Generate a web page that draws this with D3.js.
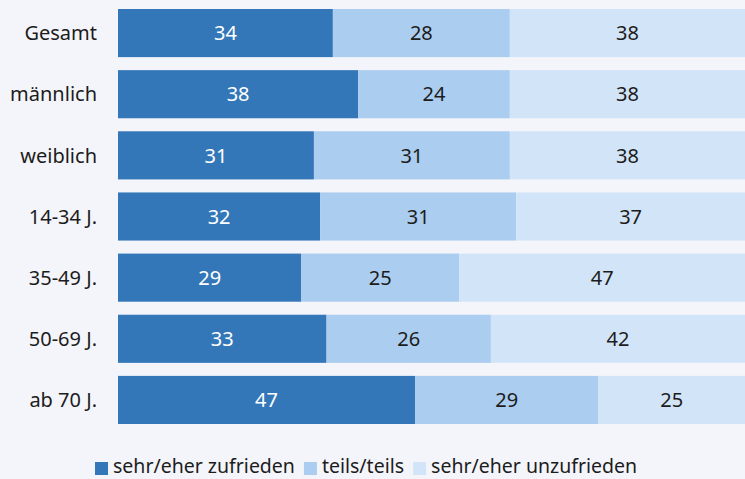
<!DOCTYPE html>
<html>
<head>
<meta charset="utf-8">
<script src="https://cdn.jsdelivr.net/npm/d3@7"></script>
<style>
  html, body { margin: 0; padding: 0; background: #f4f5fa; }
  svg { display: block; font-family: "Noto Sans", "Open Sans", sans-serif; }
</style>
</head>
<body>
<div id="chart"></div>
<script>
const categories = ['Gesamt', 'männlich', 'weiblich', '14-34 J.', '35-49 J.', '50-69 J.', 'ab 70 J.'];
const seriesNames = ['sehr/eher zufrieden', 'teils/teils', 'sehr/eher unzufrieden'];
const zufrieden = [34, 38, 31, 32, 29, 33, 47];
const teils = [28, 24, 31, 31, 25, 26, 29];
const unzufrieden = [38, 38, 38, 37, 47, 42, 25];
const colors = ['#3377b8', '#abcdef', '#d2e5f8'];
const textColors = ['#ffffff', '#1c1c1c', '#1c1c1c'];

const width = 745, height = 479;

const svg = d3.select('#chart').append('svg')
    .attr('width', width)
    .attr('height', height);

svg.append('rect').attr('width', width).attr('height', height).attr('fill', '#f4f5fa');

// Skalen
const x = d3.scaleLinear().domain([0, 100]).range([118, 750]);
const y = d3.scaleBand().domain(categories).range([9, 424]).paddingInner(0.213).paddingOuter(0);

const rows = categories.map((c, i) => ({ cat: c, values: [zufrieden[i], teils[i], unzufrieden[i]] }));
const stack = d3.stack().keys([0, 1, 2]).value((d, k) => d.values[k]);
const layers = stack(rows);

const g = svg.append('g');
layers.forEach((layer, k) => {
    const lg = g.append('g');
    lg.selectAll('rect')
        .data(layer)
        .enter()
        .append('rect')
        .attr('x', d => x(d[0]))
        .attr('y', d => y(d.data.cat))
        .attr('width', d => x(d[1]) - x(d[0]))
        .attr('height', y.bandwidth())
        .attr('fill', colors[k]);
    lg.selectAll('text')
        .data(layer)
        .enter()
        .append('text')
        .attr('x', d => (x(d[0]) + Math.min(x(d[1]), width)) / 2)
        .attr('y', d => y(d.data.cat) + y.bandwidth() / 2)
        .attr('dy', '0.36em')
        .attr('text-anchor', 'middle')
        .style('font-size', '20px')
        .attr('fill', textColors[k])
        .text(d => d.data.values[k]);
});

// Kategorien
svg.append('g').selectAll('text')
    .data(categories)
    .enter()
    .append('text')
    .attr('x', 97)
    .attr('y', d => y(d) + y.bandwidth() / 2)
    .attr('dy', '0.36em')
    .attr('text-anchor', 'end')
    .style('font-size', '20px')
    .attr('fill', '#1c1c1c')
    .text(d => d);

// Legende
const legend = svg.append('g');
let lx = 95;
seriesNames.forEach((name, k) => {
    legend.append('rect')
        .attr('x', lx)
        .attr('y', 462)
        .attr('width', 13)
        .attr('height', 13)
        .attr('fill', colors[k]);
    const t = legend.append('text')
        .attr('x', lx + 18)
        .attr('y', 473)
        .style('font-size', '19.5px')
        .attr('fill', '#1c1c1c')
        .text(name);
    lx += 18 + t.node().getComputedTextLength() + 9;
});
</script>
</body>
</html>
